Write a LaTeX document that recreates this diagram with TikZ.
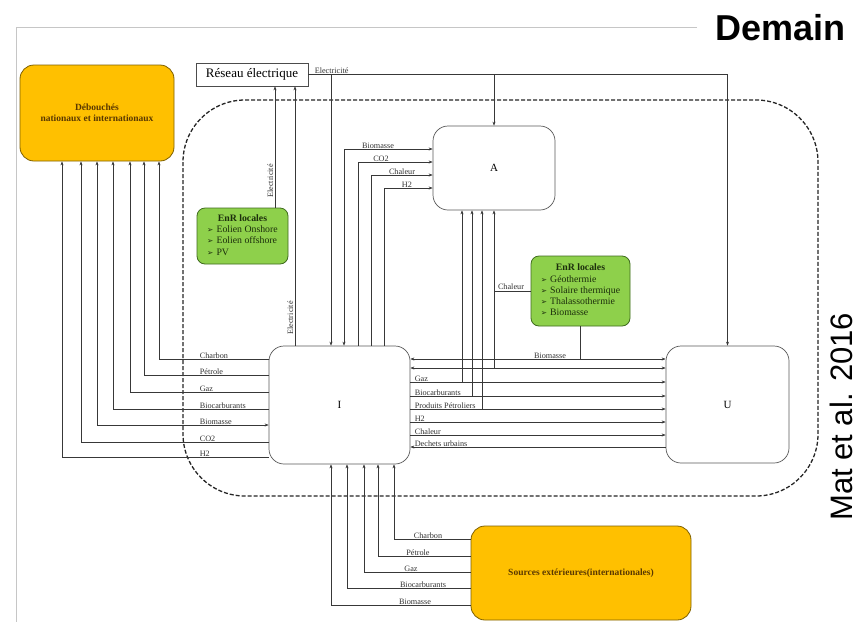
\documentclass[tikz,border=0pt]{standalone}
\usepackage{fontspec}
\setmainfont{Liberation Serif}
\newfontfamily\headfont{Liberation Sans}
\newfontfamily\symfont{DejaVu Sans}
\usetikzlibrary{arrows.meta}

\definecolor{gold}{HTML}{FFC000}
\definecolor{goldedge}{HTML}{7F6000}
\definecolor{goldtext}{HTML}{5A3800}
\definecolor{leaf}{HTML}{8ED04B}
\definecolor{leafedge}{HTML}{3F6B1E}
\definecolor{leaftext}{HTML}{1C2E0C}
\definecolor{wire}{HTML}{383838}

% bullet used in the renewable-energy boxes
\newcommand\enrbul{{\symfont\fontsize{7.5}{7.5}\selectfont ➢}\hspace{3pt}}

\begin{document}
\begin{tikzpicture}[x=1pt,y=-1pt,
  flow/.style={draw=wire, line width=0.6pt},
  arr/.style={flow, -{Stealth[length=4pt,width=3pt]}},
  darr/.style={flow, {Stealth[length=4pt,width=3pt]}-{Stealth[length=4pt,width=3pt]}},
  rarr/.style={flow, {Stealth[length=4pt,width=3pt]}-},
  lbl/.style={font=\fontsize{8.2}{9}\selectfont, inner sep=0.6pt, text=black!80},
  sector/.style={draw=black!65, line width=0.7pt, fill=white, rounded corners=15pt,
    inner sep=0pt, font=\fontsize{11}{12}\selectfont},
  goldbox/.style={draw=goldedge, line width=0.8pt, fill=gold, rounded corners=14pt,
    inner sep=0pt, text=goldtext, font=\bfseries\fontsize{9.5}{11}\selectfont, align=center},
  enr/.style={draw=leafedge, line width=0.8pt, fill=leaf, rounded corners=8pt,
    inner sep=0pt, text=leaftext, font=\fontsize{9.8}{11.2}\selectfont},
]
\useasboundingbox (0,0) rectangle (854,622);
\fill[white] (0,0) rectangle (854,622);

% slide frame
\draw[gray!45, line width=0.6pt] (697,27) -- (16,27) -- (16,622);

% territory boundary
\draw[black!85, line width=1.3pt, dash pattern=on 4pt off 2pt, rounded corners=62pt]
  (183,100) rectangle (818,496);

% boxes
\node[goldbox, minimum width=154pt, minimum height=96pt] (deb) at (97,113)
  {Débouchés\\nationaux et internationaux};
\node[draw=black!70, line width=0.7pt, fill=white, minimum width=112pt, minimum height=23pt,
  inner sep=0pt, font=\fontsize{13}{14}\selectfont] (res) at (252,74.5) {Réseau électrique};
\node[sector, minimum width=122pt, minimum height=84pt] (A) at (494,168) {A};
\node[sector, minimum width=141pt, minimum height=118pt] (I) at (339.5,405) {I};
\node[sector, minimum width=123pt, minimum height=117pt] (U) at (727.5,404.5) {U};
\node[goldbox, minimum width=220pt, minimum height=94pt] (src) at (581,573)
  {Sources extérieures(internationales)};
\node[enr, minimum width=91pt, minimum height=56pt] (g1) at (242.5,236)
  {\begin{tabular}{@{}l@{}}\multicolumn{1}{@{}c@{}}{\textbf{EnR locales}}\\
   \enrbul Eolien Onshore\\ \enrbul Eolien offshore\\ \enrbul PV\end{tabular}};
\node[enr, minimum width=99pt, minimum height=70pt] (g2) at (580.5,291)
  {\begin{tabular}{@{}l@{}}\multicolumn{1}{@{}c@{}}{\textbf{EnR locales}}\\
   \enrbul Géothermie\\ \enrbul Solaire thermique\\ \enrbul Thalassothermie\\ \enrbul Biomasse\end{tabular}};

% electricity network
\coordinate (xe) at (331,0);
\draw[arr] (res.east) -- (res.east -| U.north) -- (U.north);
\draw[arr] (res.east -| A.north) -- (A.north);
\draw[arr] (res.east -| xe) -- (I.north -| xe);
\node[lbl, anchor=south west] at (314,74) {Electricité};

\coordinate (xa) at (275,0);
\draw[arr] (g1.north -| xa) -- (res.south -| xa);
\node[lbl, rotate=90, anchor=south] at (274,181) {Electricité};
\coordinate (xb) at (295,0);
\draw[arr] (I.north -| xb) -- (res.south -| xb);
\node[lbl, rotate=90, anchor=south] at (294,318) {Electricité};

% I towards A
\coordinate (k) at (344,149);
\draw[darr] (I.north -| k) |- (A.west |- k);
\node[lbl, anchor=south] at (378,149) {Biomasse};
\foreach \x/\y/\t/\lx in {358/162/CO2/381, 371/175/Chaleur/402, 384/188/H2/407}{
  \coordinate (k) at (\x,\y);
  \draw[arr] (I.north -| k) |- (A.west |- k);
  \node[lbl, anchor=south] at (\lx,\y) {\t};
}

% I towards national and international outlets
\foreach \y/\x/\t in {359/159/Charbon, 375/144/Pétrole, 392/130/Gaz,
                      409/113/Biocarburants, 442/81/CO2, 457/62/H2}{
  \coordinate (k) at (\x,\y);
  \draw[arr] (I.west |- k) -| (deb.south -| k);
  \node[lbl, anchor=south west] at (199,\y) {\t};
}
\coordinate (k) at (97,425);
\draw[darr] (I.west |- k) -| (deb.south -| k);
\node[lbl, anchor=south west] at (199,425) {Biomasse};

% I towards U
\coordinate (r1) at (0,359);
\coordinate (r2) at (0,368);
\draw[darr] (I.east |- r1) -- (U.west |- r1);
\draw[darr] (I.east |- r2) -- (U.west |- r2);
\foreach \y/\t in {382/Gaz, 396/Biocarburants, 409/Produits Pétroliers, 422/H2, 435/Chaleur}{
  \coordinate (k) at (0,\y);
  \draw[arr] (I.east |- k) -- (U.west |- k);
  \node[lbl, anchor=south west] at (414,\y) {\t};
}
\coordinate (k) at (0,447);
\draw[rarr] (I.east |- k) -- (U.west |- k);
\node[lbl, anchor=south west] at (414,447) {Dechets urbains};

% local renewables
\draw[flow] (g2.south) -- (g2.south |- r1);
\node[lbl, anchor=south] at (550,359) {Biomasse};
\draw[flow] (g2.west) -- (g2.west -| A.south);
\node[lbl, anchor=south] at (511,290) {Chaleur};

% flows feeding A from the I--U lines
\foreach \x/\y in {462/382, 472/396, 482/409, 494/368}{
  \coordinate (k) at (\x,\y);
  \draw[arr] (k) -- (A.south -| k);
}

% external sources towards I
\foreach \y/\x/\t/\lx in {539/394/Charbon/428, 556/378/Pétrole/418, 572/364/Gaz/411,
                          588/347/Biocarburants/423, 605/331/Biomasse/415}{
  \coordinate (k) at (\x,\y);
  \draw[arr] (src.west |- k) -| (I.south -| k);
  \node[lbl, anchor=south] at (\lx,\y) {\t};
}

% titles
\node[font=\headfont\bfseries\fontsize{36}{36}\selectfont, anchor=base west, inner sep=0pt]
  (title) at (715,40) {Demain};
\node[font=\headfont\fontsize{31}{31}\selectfont, rotate=90, anchor=base west, inner sep=0pt]
  (cite) at (852,521) {Mat et al. 2016};
\end{tikzpicture}
\end{document}
